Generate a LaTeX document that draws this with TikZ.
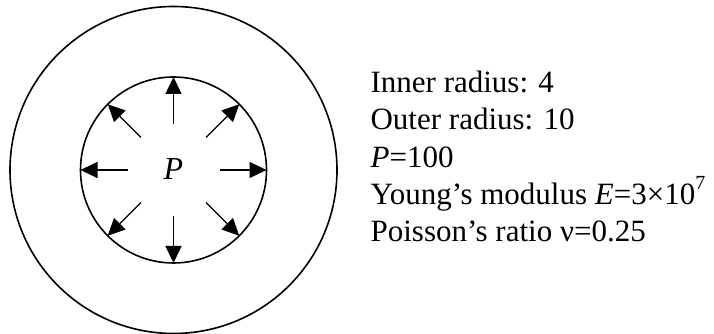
\documentclass[tikz,border=0pt]{standalone}
\usepackage{fontspec}
\setmainfont{Liberation Serif}
\usetikzlibrary{arrows.meta,calc}
\begin{document}
\begin{tikzpicture}[x=1pt,y=1pt,
  ring/.style={circle,draw,line width=1.6pt,inner sep=0pt,outer sep=0pt},
  arr/.style={line width=1.4pt,-{Triangle[length=17pt,width=16pt]}},
  info/.style={anchor=base west,inner sep=0pt,font=\fontsize{31}{37}\selectfont}]
\useasboundingbox (0,0) rectangle (714,334);
\coordinate (c) at (173.5,164);
\node[ring,minimum size=327pt] (outer) at (c) {};
\node[ring,minimum size=186pt] (inner) at (c) {};
\node[anchor=base,inner sep=0pt,font=\fontsize{32}{32}\selectfont] (p) at (173.5,154) {\textit{P}};
\foreach \a in {0,45,...,315}{
  \coordinate (s\a) at ($(c)+(\a:46)$);
  \draw[arr] (s\a) -- (inner.\a);
}
\node[info] (t1) at (370.4,241) {Inner radius: 4};
\node[info] (t2) at (370.4,204) {Outer radius: 10};
\node[info] (t3) at (370.4,166.5) {\textit{P}=100};
\node[info] (t4) at (370.4,129.5) {Young’s modulus \textit{E}=3×10\raisebox{14.5pt}{\fontsize{20}{20}\selectfont 7}};
\node[info] (t5) at (370.4,92) {Poisson’s ratio ν=0.25};
\end{tikzpicture}
\end{document}
